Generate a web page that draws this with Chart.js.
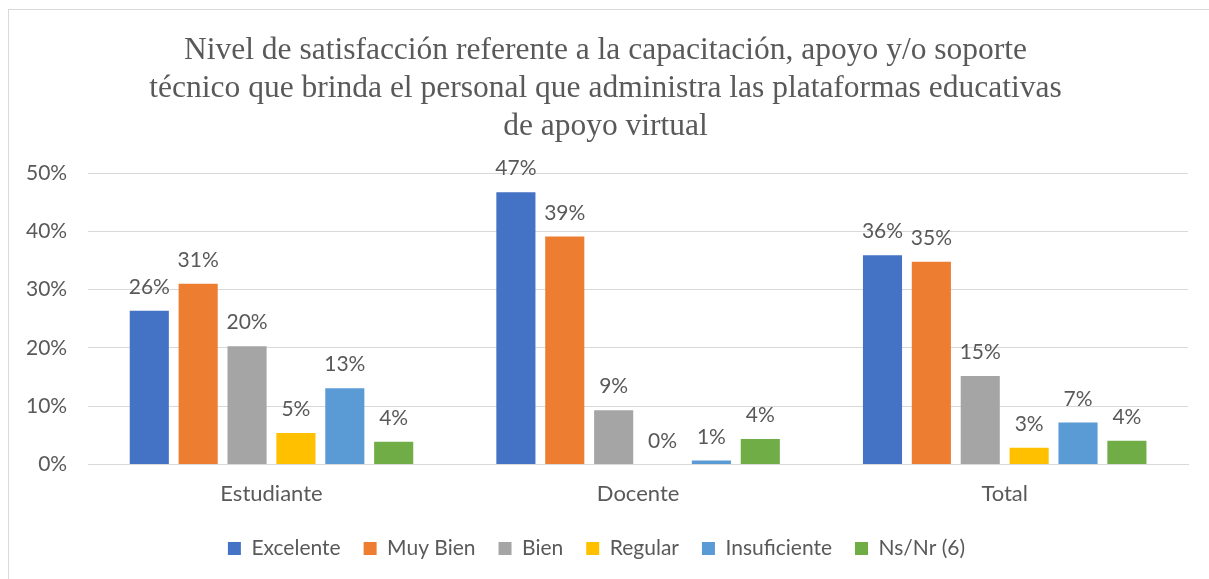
<!DOCTYPE html>
<html>
<head>
<meta charset="utf-8">
<script src="https://cdn.jsdelivr.net/npm/chart.js@4.4.0/dist/chart.umd.min.js"></script>
<style>
  html, body { margin: 0; padding: 0; background: #fff; }
  #frame {
    position: absolute; left: 8px; top: 9px;
    width: 1230px; height: 600px;
    border: 1px solid #d9d9d9;
  }
  #wrap { position: absolute; left: 0; top: 0; width: 1209px; height: 579px; }
</style>
</head>
<body>
<div id="frame"></div>
<div id="wrap"><canvas id="chart"></canvas></div>
<script>
// ==========================================
// Nivel de satisfacción — bar chart
// ==========================================

const titleLines = [
    'Nivel de satisfacción referente a la capacitación, apoyo y/o soporte',
    'técnico que brinda el personal que administra las plataformas educativas',
    'de apoyo virtual'
];
const categories = ['Estudiante', 'Docente', 'Total'];
const seriesNames = ['Excelente', 'Muy Bien', 'Bien', 'Regular', 'Insuficiente', 'Ns/Nr (6)'];
const excelente = [26.4, 46.7, 35.9];
const muyBien = [31.0, 39.1, 34.8];
const bien = [20.3, 9.3, 15.2];
const regular = [5.4, 0, 2.9];
const insuficiente = [13.1, 0.7, 7.2];
const nsNr = [3.9, 4.4, 4.1];
const yTicks = [0, 10, 20, 30, 40, 50];

const colors = ['#4472C4', '#ED7D31', '#A5A5A5', '#FFC000', '#5B9BD5', '#70AD47'];
const textColor = '#595959';
const font = "Lato, 'Open Sans', sans-serif";

const allSeries = [excelente, muyBien, bien, regular, insuficiente, nsNr];

/**
 * Percentage labels above each bar
 */
const barLabels = {
    id: 'barLabels',
    afterDatasetsDraw(chart) {
        const ctx = chart.ctx;
        ctx.save();
        ctx.fillStyle = textColor;
        ctx.font = '21px ' + font;
        ctx.textAlign = 'center';
        ctx.textBaseline = 'alphabetic';
        chart.data.datasets.forEach((ds, i) => {
            chart.getDatasetMeta(i).data.forEach((bar, j) => {
                ctx.fillText(Math.round(ds.data[j]) + '%', bar.x, bar.y - 17);
            });
        });
        ctx.restore();
    }
};

/**
 * Title centred on the whole canvas (space kept by layout padding)
 */
const centredTitle = {
    id: 'centredTitle',
    afterDraw(chart) {
        const ctx = chart.ctx;
        ctx.save();
        ctx.fillStyle = textColor;
        ctx.font = "31.5px 'Liberation Serif', 'Times New Roman', serif";
        ctx.textAlign = 'center';
        ctx.textBaseline = 'alphabetic';
        titleLines.forEach((line, i) => {
            ctx.fillText(line, chart.width / 2 + 1, 59 + i * 38);
        });
        ctx.restore();
    }
};

new Chart(document.getElementById('chart'), {
    type: 'bar',
    data: {
        labels: categories,
        datasets: allSeries.map((data, i) => ({
            label: seriesNames[i],
            data: data,
            backgroundColor: colors[i],
            borderWidth: 0,
            barPercentage: 0.8,
            categoryPercentage: 0.8
        }))
    },
    options: {
        responsive: true,
        maintainAspectRatio: false,
        animation: false,
        layout: { padding: { left: 5, right: 21, top: 173, bottom: 10 } },
        plugins: {
            title: { display: false },
            legend: {
                position: 'bottom',
                labels: {
                    color: textColor,
                    boxWidth: 13,
                    boxHeight: 13,
                    padding: 23,
                    font: { family: font, size: 21 }
                }
            },
            tooltip: { enabled: false }
        },
        scales: {
            x: {
                grid: { display: false },
                border: { color: '#d9d9d9' },
                ticks: { color: textColor, padding: 8, font: { family: font, size: 22 } }
            },
            y: {
                min: 0,
                max: 50,
                afterBuildTicks: axis => { axis.ticks = yTicks.map(v => ({ value: v })); },
                grid: { color: '#d9d9d9', drawTicks: false },
                border: { display: false },
                ticks: {
                    color: textColor,
                    padding: 21,
                    font: { family: font, size: 21 },
                    callback: v => v + '%'
                }
            }
        }
    },
    plugins: [barLabels, centredTitle]
});
</script>
</body>
</html>
